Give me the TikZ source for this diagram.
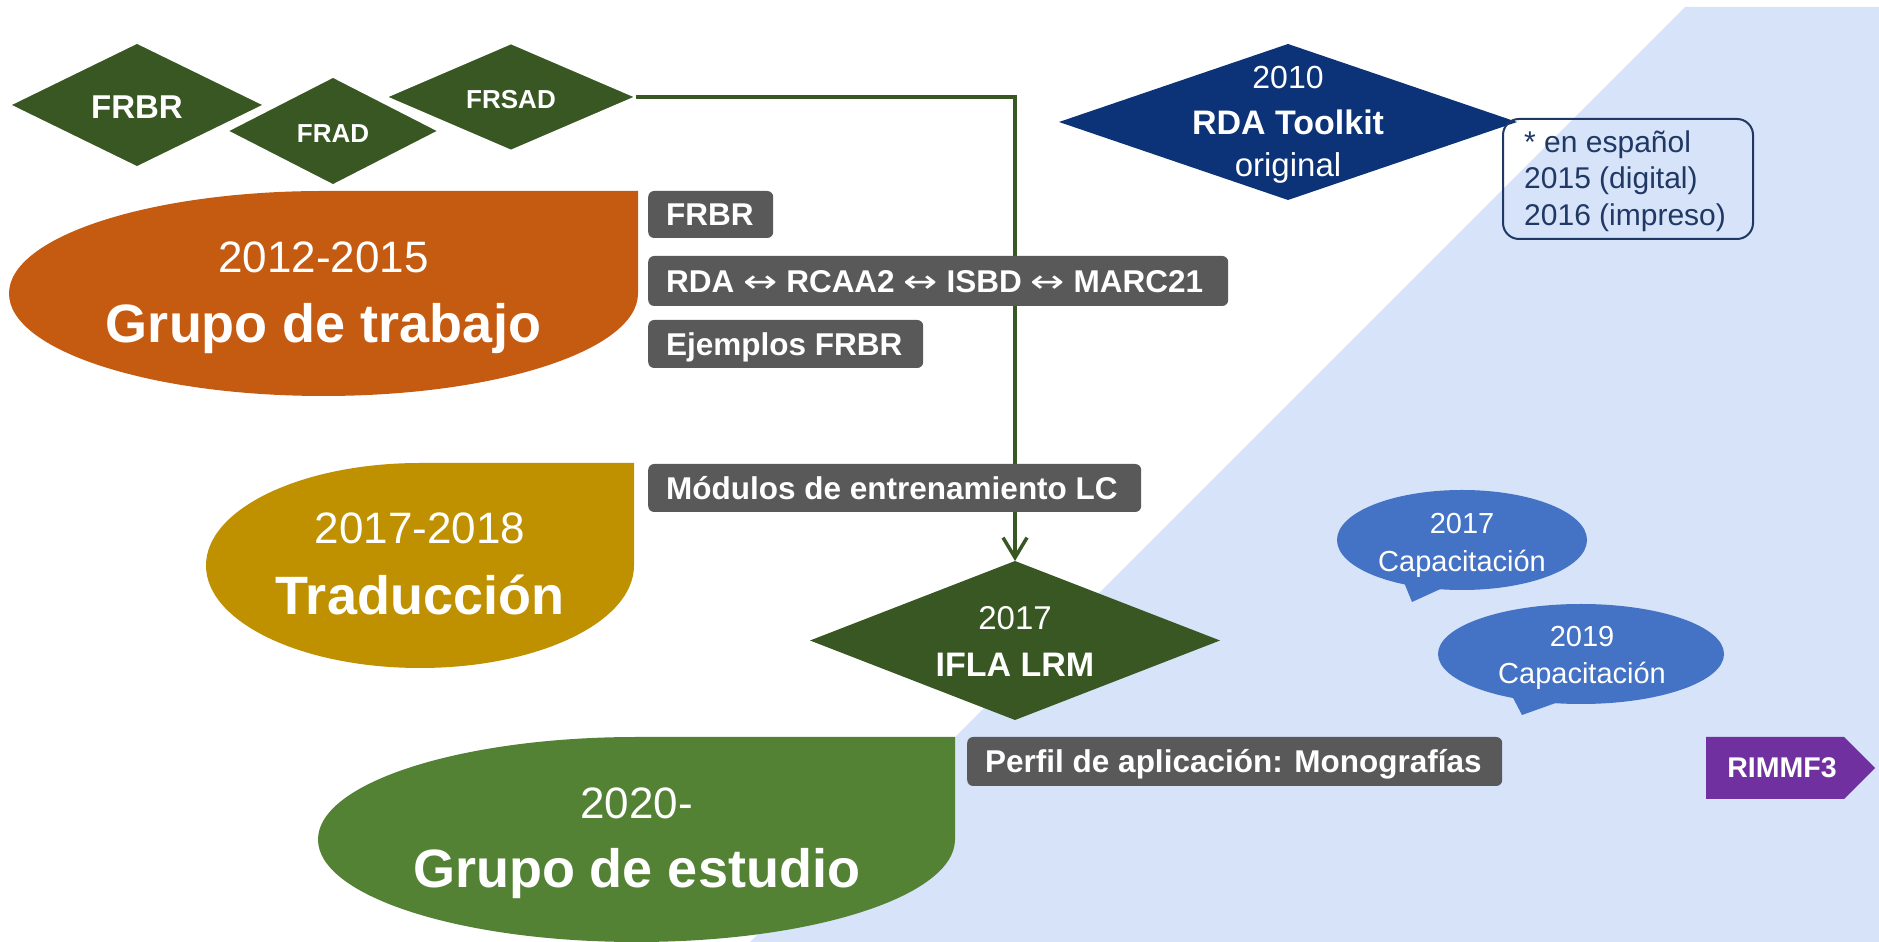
\documentclass[tikz,border=0pt]{standalone}
\usepackage{fontspec}
\setmainfont{Liberation Sans}
\newfontfamily\dvs{DejaVu Sans}
\usetikzlibrary{arrows.meta,shapes.geometric}
\definecolor{dkgreen}{HTML}{385723}
\definecolor{navyC}{HTML}{0C3378}
\definecolor{orangeC}{HTML}{C55A11}
\definecolor{goldC}{HTML}{BF9000}
\definecolor{greenC}{HTML}{548235}
\definecolor{grayC}{HTML}{595959}
\definecolor{bubbleC}{HTML}{4472C4}
\definecolor{bgblue}{HTML}{D6E3F8}
\definecolor{purpleC}{HTML}{7030A0}
\definecolor{boxnavy}{HTML}{203864}
\newcommand{\fsz}[1]{\fontsize{#1}{#1}\selectfont}
\newcommand{\lbox}[2]{\makebox[#1][l]{#2}}
\newcommand{\lra}{ \scalebox{1.3}[1]{\dvs\mdseries ↔} }
\tikzset{
  dia/.style={diamond, inner sep=0pt, outer sep=0pt, draw=white, line width=1.5pt},
  wt/.style={text=white, inner sep=0pt, anchor=base},
  gbox/.style={rounded corners=6pt, fill=grayC, text=white, anchor=west, inner xsep=18pt, inner ysep=0pt, text height=22.5pt, text depth=0pt, font=\bfseries\fsz{31.5}},
  conn/.style={draw=dkgreen, line width=3.5pt, -{Straight Barb[length=20pt,width=24pt]}},
  bubble/.style={ellipse, fill=bubbleC, inner sep=0pt},
  esptxt/.style={anchor=base west, inner sep=0pt, text=boxnavy, font=\fsz{30}},
}
\begin{document}
\begin{tikzpicture}[x=1pt,y=1pt]
\useasboundingbox (0,0) rectangle (1879,942);
\fill[white] (0,0) rectangle (1879,942);
% light blue background
\fill[bgblue] (1685,935) -- (1879,935) -- (1879,0) -- (750,0) -- cycle;

% teardrops
\fill[orangeC] (323.5,751) -- (638,751) -- (638,648.5)
  arc[start angle=0,end angle=-180,x radius=314.5pt,y radius=102.5pt]
  arc[start angle=180,end angle=90,x radius=314.5pt,y radius=102.5pt] -- cycle;
\node[wt, font=\fsz{44}] (y1) at (323.5,669) {2012-2015};
\node[wt, font=\bfseries\fsz{54}] (t1) at (323.5,599) {Grupo de trabajo};

\fill[goldC] (420,479) -- (634,479) -- (634,376.5)
  arc[start angle=0,end angle=-180,x radius=214pt,y radius=102.5pt]
  arc[start angle=180,end angle=90,x radius=214pt,y radius=102.5pt] -- cycle;
\node[wt, font=\fsz{44}] (y2) at (420,398) {2017-2018};
\node[wt, font=\bfseries\fsz{54}] (t2) at (420,327) {Traducción};

\fill[greenC] (636.5,205) -- (955,205) -- (955,102.5)
  arc[start angle=0,end angle=-180,x radius=318.5pt,y radius=102.5pt]
  arc[start angle=180,end angle=90,x radius=318.5pt,y radius=102.5pt] -- cycle;
\node[wt, font=\fsz{44}] (y3) at (636.5,123) {2020-};
\node[wt, font=\bfseries\fsz{54}] (t3) at (636.5,54) {Grupo de estudio};

% FR diamonds
\node[dia, fill=dkgreen, minimum width=254pt, minimum height=124pt] (frbr) at (137,837) {};
\node[wt, font=\bfseries\fsz{33}] (frbrT) at (137,823) {FRBR};
\node[dia, fill=dkgreen, minimum width=211pt, minimum height=108pt] (frad) at (333,811) {};
\node[wt, font=\bfseries\fsz{26}] (fradT) at (333,799) {FRAD};
\node[dia, fill=dkgreen, minimum width=249pt, minimum height=107pt] (frsad) at (511,845) {};
\node[wt, font=\bfseries\fsz{26}] (frsadT) at (511,833) {FRSAD};

% IFLA LRM
\node[dia, draw=none, fill=dkgreen, minimum width=410pt, minimum height=159pt] (ifla) at (1015,301.5) {};
\node[wt, font=\fsz{33}] (iflaY) at (1015,312) {2017};
\node[wt, font=\bfseries\fsz{34}] (iflaT) at (1015,265) {IFLA LRM};

% RDA Toolkit
\node[dia, draw=none, fill=navyC, minimum width=458pt, minimum height=156pt] (rda) at (1288,820) {};
\node[wt, font=\fsz{32}] (rdaY) at (1288,853) {2010};
\node[wt, font=\bfseries\fsz{34}] (rdaT) at (1288,807) {RDA Toolkit};
\node[wt, font=\fsz{33}] (rdaO) at (1288,765) {original};

% connector
\draw[conn] (frsad.east) -| (ifla.north);

% gray boxes
\node[gbox, minimum height=47pt] (g1) at (648,727.5) {\lbox{89pt}{FRBR}};
\node[gbox, minimum height=50pt] (g2) at (648,661) {\lbox{544pt}{RDA\lra RCAA2\lra ISBD\lra MARC21}};
\node[gbox, minimum height=48pt] (g3) at (648,598) {\lbox{239pt}{Ejemplos FRBR}};
\node[gbox, minimum height=48pt] (g4) at (648,454) {\lbox{457pt}{Módulos de entrenamiento LC}};
\node[gbox, minimum height=49pt] (g5) at (967,180.5) {\lbox{499pt}{Perfil de aplicación: Monografías}};

% espanol box
\node[draw=boxnavy, line width=2pt, rounded corners=16pt, minimum width=250pt, minimum height=120pt, inner sep=0pt] (esp) at (1628,763) {};
\node[esptxt] (e1) at (1524,789) {* en español};
\node[esptxt] (e2) at (1524,753) {2015 (digital)};
\node[esptxt] (e3) at (1524,716) {2016 (impreso)};

% speech bubbles
\node[bubble, minimum width=250pt, minimum height=100pt] (b1) at (1462,402) {};
\fill[bubbleC] (1403,362) -- (1412,340) -- (1447,356) -- cycle;
\node[wt, font=\fsz{29}] (b1y) at (1462,408) {2017};
\node[wt, font=\fsz{29}] (b1t) at (1462,370) {Capacitación};

\node[bubble, minimum width=286pt, minimum height=100pt] (b2) at (1581,288) {};
\fill[bubbleC] (1511,248) -- (1522,227) -- (1564,242) -- cycle;
\node[wt, font=\fsz{29}] (b2y) at (1582,295) {2019};
\node[wt, font=\fsz{29}] (b2t) at (1582,258) {Capacitación};

% RIMMF3
\fill[purpleC] (1706,205) -- (1844,205) -- (1875,174) -- (1844,143) -- (1706,143) -- cycle;
\node[text=white, inner sep=0pt, font=\bfseries\fsz{28.5}] (rimmf) at (1782,174) {RIMMF3};
\end{tikzpicture}
\end{document}
